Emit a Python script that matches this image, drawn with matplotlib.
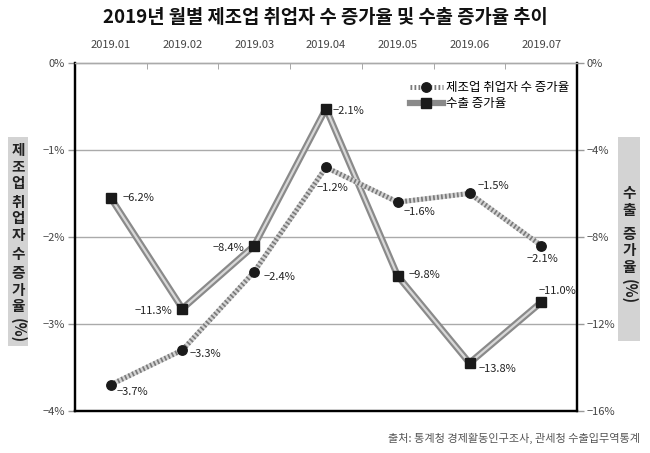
import matplotlib
matplotlib.use('Agg')
from matplotlib import pyplot as plt
from matplotlib.patches import Rectangle
from matplotlib.ticker import FixedLocator

plt.rcParams['font.family'] = ['Noto Sans CJK KR', 'DejaVu Sans']
plt.rcParams['axes.unicode_minus'] = True

months = ['2019.01', '2019.02', '2019.03', '2019.04', '2019.05', '2019.06', '2019.07']
employ = [-3.7, -3.3, -2.4, -1.2, -1.6, -1.5, -2.1]   # 제조업 취업자 수 증가율
export = [-6.2, -11.3, -8.4, -2.1, -9.8, -13.8, -11.0]  # 수출 증가율

# label offsets in pixels (dx, dy, ha)
emp_off = [(6, -7, 'left'), (7, -4, 'left'), (9, -5, 'left'), (6, -21, 'center'),
           (6, -10, 'left'), (8, 7, 'left'), (1, -13, 'center')]
exp_off = [(12, 0, 'left'), (-10, -2, 'right'), (-10, -2, 'right'), (7, -2, 'left'),
           (11, 1, 'left'), (9, -6, 'left'), (-3, 11, 'left')]

fig = plt.figure(figsize=(6.5, 4.53), dpi=100)
ax = fig.add_axes([0.115, 0.093, 0.773, 0.768])
ax2 = ax.twinx()

x = list(range(len(months)))

# left axis: employment
ax.set_xlim(-0.5, 6.5)
ax.set_ylim(-4, 0)
ax.set_yticks([0, -1, -2, -3, -4])
ax.set_yticklabels(['0%', '−1%', '−2%', '−3%', '−4%'])
ax2.set_ylim(-16, 0)
ax2.set_yticks([0, -4, -8, -12, -16])
ax2.set_yticklabels(['0%', '−4%', '−8%', '−12%', '−16%'])

for a in (ax, ax2):
    a.tick_params(axis='y', length=5, width=1, color='#999999', labelsize=8,
                  labelcolor='#444444', pad=2)
    a.spines['top'].set_color('#aaaaaa')
    a.spines['top'].set_linewidth(1)
    a.spines['left'].set_linewidth(1.6)
    a.spines['right'].set_linewidth(1.6)
    a.spines['bottom'].set_linewidth(1.6)

for g in [-1, -2, -3]:
    ax.axhline(g, color='#aaaaaa', lw=1, zorder=0)

ax.xaxis.tick_top()
ax.set_xticks(x)
ax.set_xticklabels(months)
ax.xaxis.set_minor_locator(FixedLocator([i + 0.5 for i in range(6)]))
ax.tick_params(axis='x', which='major', length=0, labelsize=8, labelcolor='#444444', pad=9)
ax.tick_params(axis='x', which='minor', length=4, direction='in', color='#999999')

# export line (right axis), drawn below
ax2.plot(x, export, color='#8a8a8a', lw=4.8, zorder=2, solid_capstyle='butt')
ax2.plot(x, export, color='#d8d8d8', lw=1.6, zorder=3)
ax2.plot(x, export, ls='none', marker='s', ms=6.8, color='#1a1a1a', zorder=4)

# employment line (left axis) drawn on twin scale so it stays on top
emp_on2 = [v * 4 for v in employ]
ax2.plot(x, emp_on2, color='#d4d4d4', lw=3.6, zorder=5)
ax2.plot(x, emp_on2, color='#7a7a7a', lw=3.6, ls=(0, (0.35, 0.45)), zorder=6)
ax2.plot(x, emp_on2, ls='none', marker='o', ms=6.8, color='#1a1a1a', zorder=7)

for i, v in enumerate(employ):
    dx, dy, ha = emp_off[i]
    ax2.annotate(f'−{abs(v):.1f}%', (i, v * 4), xytext=(dx, dy), textcoords='offset pixels',
                 ha=ha, va='center', fontsize=8, color='#222222', zorder=8)
for i, v in enumerate(export):
    dx, dy, ha = exp_off[i]
    ax2.annotate(f'−{abs(v):.1f}%', (i, v), xytext=(dx, dy), textcoords='offset pixels',
                 ha=ha, va='center', fontsize=8, color='#222222', zorder=8)

# legend
h1, = ax2.plot([], [], color='#7a7a7a', lw=3.6, ls=(0, (0.35, 0.45)), marker='o', ms=6.8,
               mfc='#1a1a1a', mec='#1a1a1a')
h2, = ax2.plot([], [], color='#8a8a8a', lw=4.5, marker='s', ms=6.8,
               mfc='#1a1a1a', mec='#1a1a1a')
ax2.legend([h1, h2], ['제조업 취업자 수 증가율', '수출 증가율'], loc='upper right',
           bbox_to_anchor=(1.0, 0.97), frameon=False, fontsize=9, handlelength=2.6,
           handletextpad=0.3, labelspacing=0.25, borderaxespad=0.2)

# title
fig.text(0.5, 0.962, '2019년 월별 제조업 취업자 수 증가율 및 수출 증가율 추이',
         ha='center', va='center', fontsize=13.5, fontweight='bold', color='#111111')

# vertical axis titles in grey boxes
def stacked(x0, x1, y_top, y_bot, parts):
    W, H = 650.0, 453.0
    fig.patches.append(Rectangle((x0 / W, 1 - y_bot / H), (x1 - x0) / W, (y_bot - y_top) / H,
                                 transform=fig.transFigure, facecolor='#d3d3d3',
                                 edgecolor='none', zorder=0))
    cx = (x0 + x1) / 2 / W
    for ch, yy in parts:
        rot = 270 if ch == '(%)' else 0
        fig.text(cx, 1 - yy / H, ch, ha='center', va='center', rotation=rot,
                 fontsize=10.5, fontweight='bold', color='#222222')

left_chars = [('제', 150), ('조', 166.5), ('업', 183), ('취', 202), ('업', 218.5), ('자', 235),
              ('수', 254), ('증', 273), ('가', 289.5), ('율', 306), ('(%)', 331)]
stacked(8, 28, 137, 346, left_chars)
right_chars = [('수', 193), ('출', 209.5), ('증', 234), ('가', 250.5), ('율', 267), ('(%)', 292)]
stacked(618, 640, 137, 341, right_chars)

fig.text(0.985, 0.033, '출처: 통계청 경제활동인구조사, 관세청 수출입무역통계', ha='right',
         va='center', fontsize=8, color='#555555')

plt.savefig('out.png', dpi=100)
